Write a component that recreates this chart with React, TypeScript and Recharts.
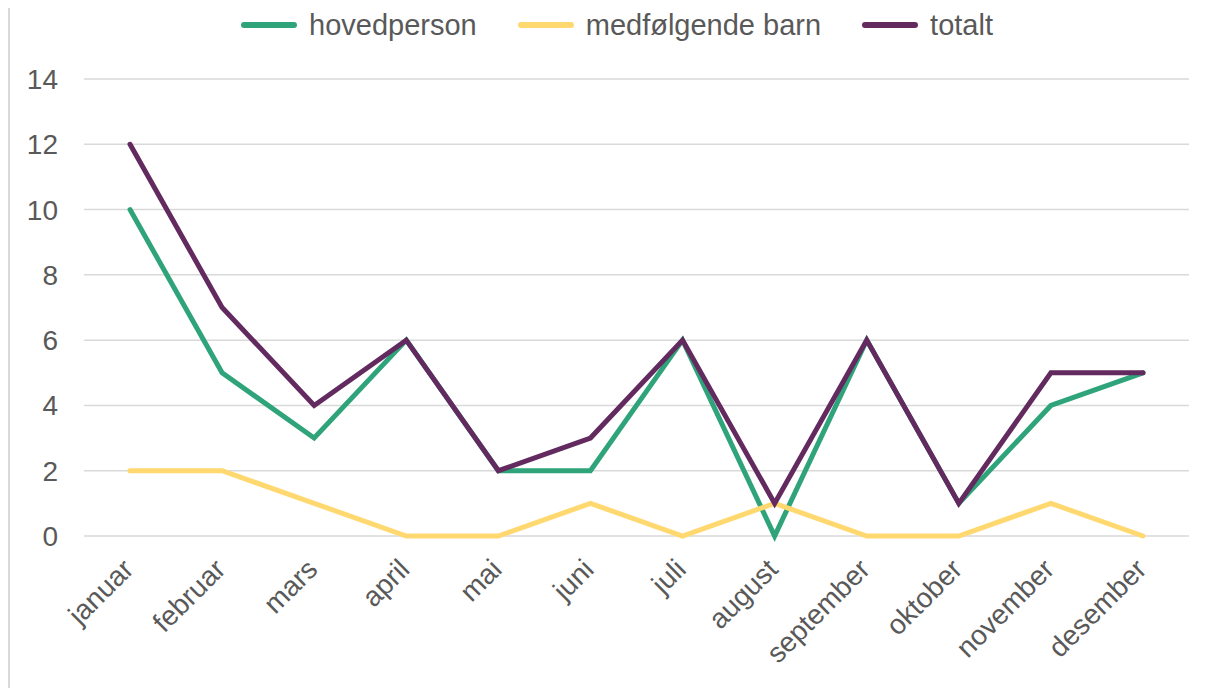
import React from 'react';
import { LineChart, Line, XAxis, YAxis, CartesianGrid, Legend } from 'recharts';

const months = ['januar', 'februar', 'mars', 'april', 'mai', 'juni', 'juli', 'august', 'september', 'oktober', 'november', 'desember'];
const hovedperson = [10, 5, 3, 6, 2, 2, 6, 0, 6, 1, 4, 5];
const medfolgende = [2, 2, 1, 0, 0, 1, 0, 1, 0, 0, 1, 0];
const totalt = [12, 7, 4, 6, 2, 3, 6, 1, 6, 1, 5, 5];
const yTicks = [0, 2, 4, 6, 8, 10, 12, 14];

const seriesDefs = [
  { key: 'hovedperson', name: 'hovedperson', color: '#2fa47a' },
  { key: 'medfolgende', name: 'medfølgende barn', color: '#ffd870' },
  { key: 'totalt', name: 'totalt', color: '#622a5f' },
];

const data = months.map((m, i) => ({
  month: m,
  hovedperson: hovedperson[i],
  medfolgende: medfolgende[i],
  totalt: totalt[i],
}));

const FONT = '"Liberation Sans", Arial, sans-serif';
const TEXT = '#595959';

const XTick = (props: any) => {
  const { x, y, payload } = props;
  const px = x + 5;
  const py = y + 35;
  return (
    <text
      x={px}
      y={py}
      transform={`rotate(-45, ${px}, ${py})`}
      textAnchor="end"
      fill={TEXT}
      fontSize={28}
      fontFamily={FONT}
    >
      {payload.value}
    </text>
  );
};

const LegendContent = () => (
  <div
    style={{
      height: 34,
      display: 'flex',
      justifyContent: 'center',
      alignItems: 'center',
      fontFamily: FONT,
      fontSize: 29,
      color: TEXT,
      paddingLeft: 8,
    }}
  >
    {seriesDefs.map((s, i) => (
      <div key={s.key} style={{ display: 'flex', alignItems: 'center', marginRight: i < seriesDefs.length - 1 ? 40 : 0 }}>
        <svg width={58} height={8} style={{ marginRight: 11 }}>
          <line x1={4} y1={4} x2={54} y2={4} stroke={s.color} strokeWidth={6} strokeLinecap="round" />
        </svg>
        <span style={{ lineHeight: '34px' }}>{s.name}</span>
      </div>
    ))}
  </div>
);

export default function App() {
  return (
    <div style={{ borderLeft: '2px solid #d9d9d9', width: 1205, height: 700 }}>
      <LineChart
        width={1205}
        height={680}
        data={data}
        margin={{ top: 37, right: 26, bottom: 0, left: 0 }}
      >
        <CartesianGrid vertical={false} stroke="#d9d9d9" strokeWidth={1.5} />
        <XAxis
          dataKey="month"
          axisLine={false}
          tickLine={false}
          tickSize={0}
          tickMargin={0}
          interval={0}
          height={152}
          padding={{ left: 46, right: 46 }}
          tick={<XTick />}
        />
        <YAxis
          domain={[0, 14]}
          ticks={yTicks}
          axisLine={false}
          tickLine={false}
          tickSize={0}
          tickMargin={26}
          width={74}
          tick={{ fill: TEXT, fontSize: 28, fontFamily: FONT }}
        />
        <Legend verticalAlign="top" content={<LegendContent />} wrapperStyle={{ top: 0, left: 0, width: 1205 }} />
        {seriesDefs.map((s) => (
          <Line
            key={s.key}
            type="linear"
            dataKey={s.key}
            name={s.name}
            stroke={s.color}
            strokeWidth={5}
            strokeLinecap="round"
            strokeLinejoin="miter"
            dot={false}
            activeDot={false}
            isAnimationActive={false}
          />
        ))}
      </LineChart>
    </div>
  );
}
